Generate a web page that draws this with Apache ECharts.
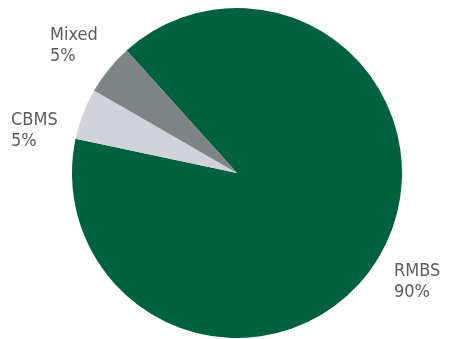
<!DOCTYPE html>
<html>
<head>
<meta charset="utf-8">
<script src="https://cdn.jsdelivr.net/npm/echarts@6/dist/echarts.min.js"></script>
<style>
    html, body { margin: 0; padding: 0; background: #fff; }
    #chart { width: 452px; height: 339px; }
</style>
</head>
<body>
<div id="chart"></div>
<script>
(function () {
    'use strict';

    var categories = ['RMBS', 'CBMS', 'Mixed'];
    var shares = [90, 5, 5];

    var colors = ['#00613f', '#d2d2da', '#7e8485'];
    // where each label's top-left corner sits
    var labelSpots = [[394, 261], [11, 110], [50, 25]];

    var myChart = echarts.init(document.getElementById('chart'));

    var option = {
        animation: false,
        series: [
            {
                type: 'pie',
                center: [237, 173],
                radius: 165,
                startAngle: 132,
                clockwise: true,
                silent: true,
                label: {
                    show: true,
                    formatter: '{b}\n{d}%',
                    color: '#5c5c5c',
                    fontFamily: '"DejaVu Sans Condensed", "Liberation Sans Narrow", sans-serif',
                    fontSize: 18,
                    lineHeight: 21,
                    overflow: 'none',
                    width: 90
                },
                labelLine: { show: false },
                labelLayout: function (params) {
                    var p = labelSpots[params.dataIndex];
                    return { x: p[0], y: p[1], align: 'left', verticalAlign: 'top' };
                },
                data: categories.map(function (name, i) {
                    return { name: name, value: shares[i], itemStyle: { color: colors[i] } };
                })
            }
        ]
    };

    myChart.setOption(option);
})();
</script>
</body>
</html>
